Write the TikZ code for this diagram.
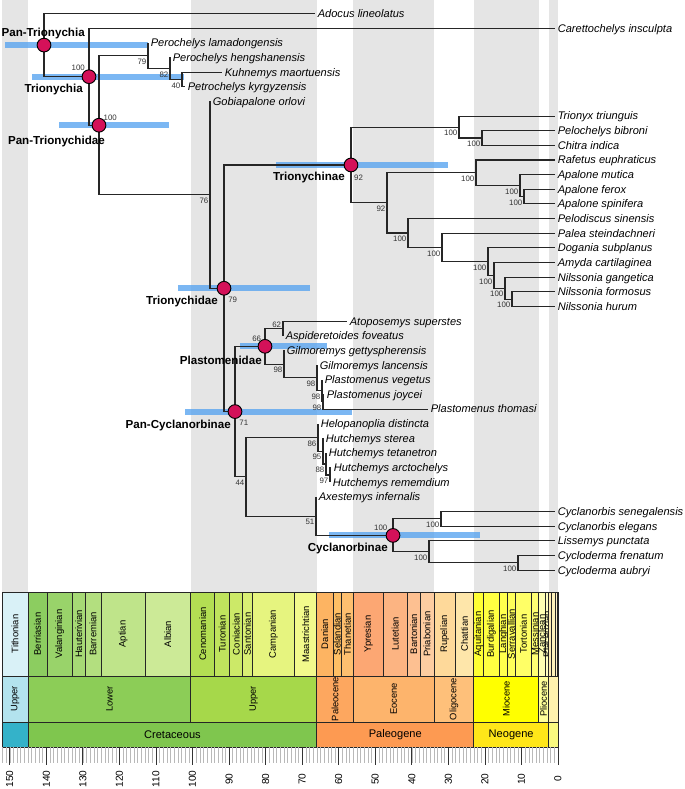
\documentclass[tikz,border=0pt]{standalone}
\usepackage{fontspec}
\setmainfont{Liberation Sans}
\usetikzlibrary{calc}
\definecolor{hpdblue}{RGB}{90,165,240}
\definecolor{nodered}{RGB}{212,17,89}
\definecolor{bandgrey}{RGB}{229,229,229}
\begin{document}
\begin{tikzpicture}[x=0.75pt,y=-0.75pt,
  branch/.style={draw=black!85, line width=0.8pt, line join=miter},
  hpd/.style={draw=hpdblue, draw opacity=0.8, line width=4.4pt},
  circnode/.style={circle, draw=black, line width=0.7pt, fill=nodered, minimum size=10.3pt, inner sep=0pt},
  taxon/.style={font=\fontsize{8.3}{9}\selectfont\itshape, anchor=base west, inner sep=0pt, xshift=1.9pt, yshift=-2.95pt},
  clade/.style={font=\fontsize{8.7}{10}\selectfont\bfseries, anchor=base east, inner sep=0pt},
  bslab/.style={font=\fontsize{5.9}{6}\selectfont, anchor=east, inner sep=0pt, xshift=-1.1pt, yshift=-4.5pt, text=black!80},
  bslabc/.style={font=\fontsize{5.9}{6}\selectfont, anchor=center, inner sep=0pt, text=black!80},
  tsbox/.style={draw=black!85, line width=0.5pt},
  stagelab/.style={rotate=90, font=\fontsize{7.1}{8}\selectfont, inner sep=0pt},
  epochlab/.style={rotate=90, font=\fontsize{7}{8}\selectfont, inner sep=0pt},
  periodlab/.style={font=\fontsize{8.3}{9}\selectfont, inner sep=0pt},
  ticklab/.style={rotate=90, font=\fontsize{7.6}{8}\selectfont, inner sep=0pt}
]
\useasboundingbox (0,0) rectangle (685,789);
% ---------- grey epoch bands ----------
\foreach \a/\b in {152.1/145, 100.5/66, 56/33.9, 23.03/5.333, 2.58/0}
  \fill[bandgrey] ({558-3.655*\a},0) rectangle ({558-3.655*\b},592);
% ---------- time scale: stages ----------
\foreach \a/\b/\cl/\nm in {152.1/145.0/D9F1F7/Tithonian, 145.0/139.8/8CCD60/Berriasian,
  139.8/132.9/99D36A/Valanginian, 132.9/129.4/A6D975/Hauterivian, 129.4/125.0/B3DF7F/Barremian,
  125.0/113.0/BFE48A/Aptian, 113.0/100.5/CCEA97/Albian, 100.5/93.9/B3DE53/Cenomanian,
  93.9/89.8/BFE35D/Turonian, 89.8/86.3/CCE968/Coniacian, 86.3/83.6/D9EF74/Santonian,
  83.6/72.1/E6F47F/Campanian, 72.1/66.0/F2FA8C/Maastrichtian, 66.0/61.6/FDB462/Danian,
  61.6/59.2/FEBF65/Selandian, 59.2/56.0/FDBF6F/Thanetian, 56.0/47.8/FCA773/Ypresian,
  47.8/41.2/FCB482/Lutetian, 41.2/37.8/FDC091/Bartonian, 37.8/33.9/FDCDA1/Priabonian,
  33.9/28.1/FED99A/Rupelian, 28.1/23.03/FEE6AA/Chattian, 23.03/20.44/FFFF33/Aquitanian,
  20.44/15.97/FFFF41/Burdigalian, 15.97/13.82/FFFF4D/Langhian, 13.82/11.63/FFFF59/Serravallian,
  11.63/7.246/FFFF66/Tortonian, 7.246/5.333/FFFF73/Messinian, 5.333/3.6/FFFFB3/Zanclean,
  3.6/2.58/FFFFBF/Piacenzian} {
  \definecolor{tmpc}{HTML}{\cl}
  \filldraw[tsbox, fill=tmpc] ({558-3.655*\a},592) rectangle ({558-3.655*\b},676);
  \node[stagelab] at ({558-3.655*(\a+\b)/2},634) {\nm};
}
\foreach \a/\b/\cl in {2.58/1.8/FFEDB3, 1.8/0.781/FFF2BA, 0.781/0.126/FFF2C7, 0.126/0.0117/FFF2D3, 0.0117/0/FEF2E0} {
  \definecolor{tmpc}{HTML}{\cl}
  \filldraw[tsbox, fill=tmpc] ({558-3.655*\a},592) rectangle ({558-3.655*\b},676);
}
% ---------- epochs ----------
\foreach \a/\b/\cl/\nm in {152.1/145/B3E3EE/Upper, 145/100.5/8CCD57/Lower, 100.5/66/A6D84A/Upper,
  66/56/FDA75F/Paleocene, 56/33.9/FDB46C/Eocene, 33.9/23.03/FEC07A/Oligocene,
  23.03/5.333/FFFF00/Miocene, 5.333/2.58/FFFF99/Pliocene} {
  \definecolor{tmpc}{HTML}{\cl}
  \filldraw[tsbox, fill=tmpc] ({558-3.655*\a},676) rectangle ({558-3.655*\b},722);
  \node[epochlab] at ({558-3.655*(\a+\b)/2},699) {\nm};
}
\foreach \a/\b/\cl in {2.58/0.0117/FFF2AE, 0.0117/0/FEF2E0} {
  \definecolor{tmpc}{HTML}{\cl}
  \filldraw[tsbox, fill=tmpc] ({558-3.655*\a},676) rectangle ({558-3.655*\b},722);
}
% ---------- periods ----------
\foreach \a/\b/\cl/\nm in {145/66/7FC64E/Cretaceous, 66/23.03/FD9A52/Paleogene, 23.03/2.58/FFE619/Neogene} {
  \definecolor{tmpc}{HTML}{\cl}
  \filldraw[tsbox, fill=tmpc] ({558-3.655*\a},722) rectangle ({558-3.655*\b},747);
  \node[periodlab] at ({558-3.655*(\a+\b)/2},734.5) {\nm};
}
\foreach \a/\b/\cl in {152.1/145/34B2C9, 2.58/0/F9F97F} {
  \definecolor{tmpc}{HTML}{\cl}
  \filldraw[tsbox, fill=tmpc] ({558-3.655*\a},722) rectangle ({558-3.655*\b},747);
}
% ---------- ticks ----------
\foreach \t in {0,...,152}
  \draw[gray!55, line width=0.35pt] ({558-3.655*\t},747) -- ({558-3.655*\t},763);
\foreach \t in {0,10,...,150} {
  \draw[black!80, line width=0.6pt] ({558-3.655*\t},747) -- ({558-3.655*\t},765);
  \node[ticklab] at ({558-3.655*\t},779) {\t};
}
% ---------- tree coordinates ----------
\coordinate (n0) at (44,45.1);
\coordinate (n1) at (89,76.69);
\coordinate (n2) at (99,125.23);
\coordinate (nA) at (148,55.62);
\coordinate (nB) at (170,68.44);
\coordinate (nC) at (182,79.43);
\coordinate (n76) at (210,194.84);
\coordinate (n3) at (224,288.28);
\coordinate (n4) at (351,164.98);
\coordinate (nTx) at (459,127.04);
\coordinate (nPC) at (482,138.03);
\coordinate (nD) at (387,202.92);
\coordinate (nF) at (476,172.82);
\coordinate (nG) at (520,185.64);
\coordinate (nH) at (524,196.63);
\coordinate (nE) at (408,233.02);
\coordinate (nI) at (442,247.44);
\coordinate (nJ) at (488,261.64);
\coordinate (nK) at (494,275.37);
\coordinate (nL) at (505,288.19);
\coordinate (nM) at (512,299.18);
\coordinate (n5) at (235,411.57);
\coordinate (n6) at (265,346.33);
\coordinate (nN) at (283,328.48);
\coordinate (nO) at (284,364.19);
\coordinate (nP) at (317,377.92);
\coordinate (nQ) at (322,390.74);
\coordinate (nR) at (323,401.73);
\coordinate (nS) at (246,476.81);
\coordinate (nT) at (318,437.44);
\coordinate (nU) at (323,451.17);
\coordinate (nV) at (326,463.99);
\coordinate (nW) at (330,474.98);
\coordinate (nX) at (316,516.18);
\coordinate (n7) at (393,535.41);
\coordinate (nY) at (441,518.93);
\coordinate (nZ) at (429,551.89);
\coordinate (nCy) at (518,562.88);
% tips
\coordinate (t0) at (315,13.5);
\coordinate (t1) at (555,28.15);
\coordinate (t2) at (148,42.8);
\coordinate (t3) at (170,57.45);
\coordinate (t4) at (222,72.1);
\coordinate (t5) at (185,86.75);
\coordinate (t6) at (210,101.4);
\coordinate (t7) at (555,116.05);
\coordinate (t8) at (555,130.7);
\coordinate (t9) at (555,145.35);
\coordinate (t10) at (555,160.0);
\coordinate (t11) at (555,174.65);
\coordinate (t12) at (555,189.3);
\coordinate (t13) at (555,203.95);
\coordinate (t14) at (555,218.6);
\coordinate (t15) at (555,233.25);
\coordinate (t16) at (555,247.9);
\coordinate (t17) at (555,262.55);
\coordinate (t18) at (555,277.2);
\coordinate (t19) at (555,291.85);
\coordinate (t20) at (555,306.5);
\coordinate (t21) at (347,321.15);
\coordinate (t22) at (283,335.8);
\coordinate (t23) at (284,350.45);
\coordinate (t24) at (317,365.1);
\coordinate (t25) at (322,379.75);
\coordinate (t26) at (324,394.4);
\coordinate (t27) at (428,409.05);
\coordinate (t28) at (318,423.7);
\coordinate (t29) at (323,438.35);
\coordinate (t30) at (326,453.0);
\coordinate (t31) at (331,467.65);
\coordinate (t32) at (330,482.3);
\coordinate (t33) at (316,496.95);
\coordinate (t34) at (555,511.6);
\coordinate (t35) at (555,526.25);
\coordinate (t36) at (555,540.9);
\coordinate (t37) at (555,555.55);
\coordinate (t38) at (555,570.2);
% ---------- HPD bars ----------
\draw[hpd] (5,45.1) -- (148,45.1);
\draw[hpd] (32,76.69) -- (184,76.69);
\draw[hpd] (59,125.23) -- (169,125.23);
\draw[hpd] (178,288.28) -- (310,288.28);
\draw[hpd] (276,164.98) -- (448,164.98);
\draw[hpd] (240,346.33) -- (327,346.33);
\draw[hpd] (185,411.57) -- (352,411.57);
\draw[hpd] (329,535.41) -- (480,535.41);
% ---------- branches ----------
\foreach \p/\c in {n0/t0, n0/n1, n1/t1, n1/n2, n2/nA, n2/n76, nA/t2, nA/nB, nB/t3, nB/nC,
  nC/t4, nC/t5, n76/t6, n76/n3, n3/n4, n3/n5, n4/nTx, n4/nD, nTx/t7, nTx/nPC, nPC/t8, nPC/t9,
  nD/nF, nD/nE, nF/t10, nF/nG, nG/t11, nG/nH, nH/t12, nH/t13, nE/t14, nE/nI, nI/t15, nI/nJ,
  nJ/t16, nJ/nK, nK/t17, nK/nL, nL/t18, nL/nM, nM/t19, nM/t20, n5/n6, n5/nS, n6/nN, n6/nO,
  nN/t21, nN/t22, nO/t23, nO/nP, nP/t24, nP/nQ, nQ/t25, nQ/nR, nR/t26, nR/t27, nS/nT, nS/nX,
  nT/t28, nT/nU, nU/t29, nU/nV, nV/t30, nV/nW, nW/t31, nW/t32, nX/t33, nX/n7, n7/nY, n7/nZ,
  nY/t34, nY/t35, nZ/t36, nZ/nCy, nCy/t37, nCy/t38}
  \draw[branch] (\p) |- (\c);
% ---------- clade circles ----------
\foreach \n in {n0, n1, n2, n3, n4, n5, n6, n7}
  \node[circnode] (c\n) at (\n) {};
% ---------- tip labels ----------
\foreach \i/\nm in {0/Adocus lineolatus, 1/Carettochelys insculpta, 2/Perochelys lamadongensis,
  3/Perochelys hengshanensis, 4/Kuhnemys maortuensis, 5/Petrochelys kyrgyzensis, 6/Gobiapalone orlovi,
  7/Trionyx triunguis, 8/Pelochelys bibroni, 9/Chitra indica, 10/Rafetus euphraticus,
  11/Apalone mutica, 12/Apalone ferox, 13/Apalone spinifera, 14/Pelodiscus sinensis,
  15/Palea steindachneri, 16/Dogania subplanus, 17/Amyda cartilaginea, 18/Nilssonia gangetica,
  19/Nilssonia formosus, 20/Nilssonia hurum, 21/Atoposemys superstes, 22/Aspideretoides foveatus,
  23/Gilmoremys gettyspherensis, 24/Gilmoremys lancensis, 25/Plastomenus vegetus,
  26/Plastomenus joycei, 27/Plastomenus thomasi, 28/Helopanoplia distincta, 29/Hutchemys sterea,
  30/Hutchemys tetanetron, 31/Hutchemys arctochelys, 32/Hutchemys rememdium,
  33/Axestemys infernalis, 34/Cyclanorbis senegalensis, 35/Cyclanorbis elegans,
  36/Lissemys punctata, 37/Cycloderma frenatum, 38/Cycloderma aubryi}
  \node[taxon] (lab\i) at (t\i) {\nm};
% ---------- support values ----------
\foreach \n/\v in {nA/79, nB/82, nC/40, n76/76, nTx/100, nPC/100, nF/100, nD/92, nG/100, nH/100,
  nE/100, nI/100, nJ/100, nK/100, nL/100, nM/100, nO/98, nP/98, nQ/98, nR/98, nS/44, nT/86,
  nU/95, nV/88, nW/97, nX/51, nY/100, nZ/100, nCy/100}
  \node[bslab] (s\n) at (\n) {\v};
\node[bslabc] (sn1) at (78.3,67.7) {100};
\node[bslabc] (sn2) at (110.3,117.3) {100};
\node[bslabc] (sn3) at (232.7,299.3) {79};
\node[bslabc] (sn4) at (358.5,177.3) {92};
\node[bslabc] (sn6) at (256.7,338.3) {66};
\node[bslabc] (sn5) at (243.8,422.7) {71};
\node[bslabc] (sn7) at (380.8,527.3) {100};
\node[bslabc] (snN) at (276.7,324.5) {62};
% ---------- clade names ----------
\node[clade] (k0) at (85,36.5) {Pan-Trionychia};
\node[clade] (k1) at (83,92) {Trionychia};
\node[clade] (k2) at (105,144) {Pan-Trionychidae};
\node[clade] (k3) at (218,304.5) {Trionychidae};
\node[clade] (k4) at (345,180.5) {Trionychinae};
\node[clade] (k6) at (262,364) {Plastomenidae};
\node[clade] (k5) at (231,428) {Pan-Cyclanorbinae};
\node[clade] (k7) at (388,551) {Cyclanorbinae};
\end{tikzpicture}
\end{document}
